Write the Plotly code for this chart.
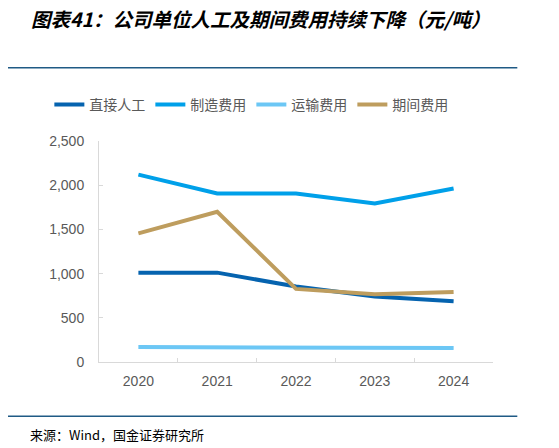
import plotly.graph_objects as go

# 数据（元/吨）
annees = ['2020', '2021', '2022', '2023', '2024']
direct_rengong = [1011, 1011, 853, 741, 688]
zhizao_feiyong = [2120, 1906, 1906, 1793, 1962]
yunshu_feiyong = [169, 165, 158, 158, 158]
qijian_feiyong = [1455, 1699, 827, 767, 793]

series = [
    ('直接人工', direct_rengong, '#0563AF'),
    ('制造费用', zhizao_feiyong, '#00A0E9'),
    ('运输费用', yunshu_feiyong, '#6CC7F5'),
    ('期间费用', qijian_feiyong, '#BE9D5E'),
]

fig = go.Figure()
for nom, valeurs, couleur in series:
    fig.add_trace(go.Scatter(x=annees, y=valeurs, name=nom, mode='lines',
                             line=dict(color=couleur, width=4)))

# Mise en page (la page ajoute une marge de 8px autour de la figure)
fig.update_layout(
    template='none',
    width=559, height=448,
    margin=dict(l=91, r=74, t=133, b=94),
    plot_bgcolor='white', paper_bgcolor='white',
    font=dict(family='Liberation Sans, Arial', color='#595959', size=14),
    legend=dict(orientation='h', x=-0.126, y=1.163, xanchor='left', yanchor='middle',
                font=dict(family='Noto Sans CJK SC', size=14, color='#595959'),
                itemwidth=30, tracegroupgap=0,
                bgcolor='rgba(0,0,0,0)'),
    xaxis=dict(type='category', range=[-0.5, 4.5], automargin=False,
               showline=True, linecolor='#D9D9D9', linewidth=1,
               ticks='inside', tickson='boundaries', ticklen=4, tickcolor='#D9D9D9',
               showgrid=False, tickfont=dict(size=14), ticklabelstandoff=6),
    yaxis=dict(range=[0, 2500], dtick=500, tickformat=',', automargin=False,
               showline=True, linecolor='#D9D9D9', linewidth=1,
               ticks='inside', ticklen=4, tickcolor='#D9D9D9',
               showgrid=False, zeroline=False, tickfont=dict(size=14),
               ticklabelstandoff=11),
)

# Titre et source
fig.add_annotation(text='<b><i>图表41：公司单位人工及期间费用持续下降（元/吨）</i></b>',
                   xref='paper', yref='paper', x=-0.178, y=1.555,
                   xanchor='left', yanchor='middle', showarrow=False,
                   font=dict(family='Noto Sans CJK SC', size=19.5, color='black'))
fig.add_annotation(text='来源：Wind，国金证券研究所',
                   xref='paper', yref='paper', x=-0.18, y=-0.33,
                   xanchor='left', yanchor='middle', showarrow=False,
                   font=dict(family='Noto Sans CJK SC', size=13, color='black'))

# Lignes de séparation
for y in [1.331, -0.2458]:
    fig.add_shape(type='line', xref='paper', yref='paper', x0=-0.2388, x1=1.0617,
                  y0=y, y1=y, line=dict(color='#1F5A85', width=1.5))

fig.write_html('out.html')
